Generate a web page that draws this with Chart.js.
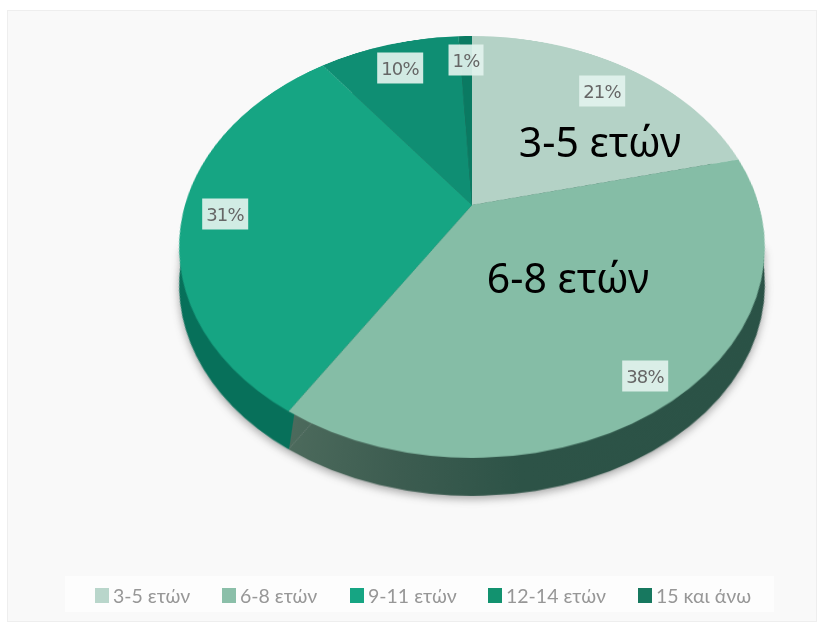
<!DOCTYPE html>
<html lang="el">
<head>
<meta charset="utf-8">
<title>Ηλικίες</title>
<script src="https://cdn.jsdelivr.net/npm/chart.js@4"></script>
<style>
  html, body { margin: 0; padding: 0; background: #fff; }
  #page { position: relative; width: 826px; height: 622px; overflow: hidden; }
  #frame { position: absolute; left: 7px; top: 10px; width: 810px; height: 612px;
           background: #f9f9f9; border: 1px solid #eeeeee; box-sizing: border-box; }
  #side { position: absolute; left: 0; top: 0; width: 826px; height: 622px;
          filter: drop-shadow(0 3px 4px rgba(40, 40, 40, .4)); }
  #sideStrip { position: absolute; left: 181px; top: 247px; width: 583px; height: 38px;
               background: linear-gradient(to right, #07705a 0 50%, #2a5246 50% 100%); }
  .pie { position: absolute; transform-origin: 50% 50%; }
  .pct { position: absolute; transform: translate(-50%, -50%); padding: 5px 4px; white-space: nowrap;
         background: rgba(226, 242, 237, .92); color: #666; font: 18px "DejaVu Sans", sans-serif;
         letter-spacing: -0.8px; filter: blur(.6px); }
  .big { position: absolute; transform: translate(-50%, -50%); white-space: nowrap;
         color: #000; font: 41px "Noto Sans", sans-serif; }
  #legend { position: absolute; left: 65px; top: 576px; width: 709px; height: 36px; background: #fdfdfd;
            filter: blur(.6px); }
  .item { position: absolute; top: 9px; color: #979797; font: 19.5px Lato, sans-serif; white-space: nowrap;
          display: flex; align-items: center; height: 20px; }
  .swatch { display: inline-block; width: 14px; height: 15px; margin-right: 4px; }
</style>
</head>
<body>
<div id="page">
  <div id="frame"></div>
  <div id="side">
    <canvas id="sidePie" class="pie" width="600" height="600"></canvas>
    <div id="sideStrip"></div>
  </div>
  <canvas id="topPie" class="pie" width="600" height="600"></canvas>
  <div id="labels"></div>
  <div id="legend"></div>
</div>
<script>
const categories = ['3-5 ετών', '6-8 ετών', '9-11 ετών', '12-14 ετών', '15 και άνω'];
const shares = [21.43, 38.1, 31.1, 9.5, 0.9];
const bigLabels = ['3-5 ετών', '6-8 ετών'];

const colors = ['#b4d2c6', '#85bda6', '#16a583', '#0f8e73', '#0a7a62'];
const legendColors = ['#b9d6cb', '#8bbfa9', '#16a583', '#12926f', '#17785f'];
const pctPos = [[602, 91], [645, 376], [225, 214], [400, 68], [466, 60]];
const bigPos = [[600, 141], [568, 277]];
const legendLeft = [30, 157, 285, 423, 573];

// tilt of the pie: centre, perspective and squash of the flat circle
const cx = 472, cy = 205, depth = 38;
const R = 300, sx = 287 / R, sy = 202.6 / R, persp = -0.199 / R;

function place(canvas, top) {
  canvas.style.left = (cx - R) + 'px';
  canvas.style.top = (top - R) + 'px';
  canvas.style.transform = `matrix3d(${sx},0,0,0, 0,${sy},0,${persp}, 0,0,1,0, 0,0,0,1)`;
}

function makePie(id, backgroundColor) {
  return new Chart(document.getElementById(id), {
    type: 'pie',
    data: { labels: categories, datasets: [{ data: shares, backgroundColor, borderWidth: 0 }] },
    options: {
      responsive: false,
      animation: false,
      layout: { padding: 0 },
      plugins: { legend: { display: false }, tooltip: { enabled: false } }
    }
  });
}

place(document.getElementById('sidePie'), cy + depth);
place(document.getElementById('topPie'), cy);

// the wall: teal under 9-11, then grey green going dark under 6-8, seam is straight down
const sideCtx = document.getElementById('sidePie').getContext('2d');
const wall = sideCtx.createLinearGradient(0, 0, 600, 0);
wall.addColorStop(0, '#07705a');
wall.addColorStop(0.235, '#07705a');
wall.addColorStop(0.235, '#4c6a5c');
wall.addColorStop(0.4, '#3c5c50');
wall.addColorStop(0.57, '#2d5347');
wall.addColorStop(1, '#2a5246');

makePie('sidePie', wall);
makePie('topPie', colors);

const labels = document.getElementById('labels');
shares.forEach((v, i) => {
  const d = document.createElement('div');
  d.className = 'pct';
  d.textContent = Math.round(v) + '%';
  d.style.left = pctPos[i][0] + 'px';
  d.style.top = pctPos[i][1] + 'px';
  labels.appendChild(d);
});
bigLabels.forEach((t, i) => {
  const d = document.createElement('div');
  d.className = 'big';
  d.textContent = t;
  d.style.left = bigPos[i][0] + 'px';
  d.style.top = bigPos[i][1] + 'px';
  labels.appendChild(d);
});

const legend = document.getElementById('legend');
categories.forEach((c, i) => {
  const it = document.createElement('div');
  it.className = 'item';
  it.style.left = legendLeft[i] + 'px';
  const sw = document.createElement('span');
  sw.className = 'swatch';
  sw.style.background = legendColors[i];
  it.appendChild(sw);
  it.appendChild(document.createTextNode(c));
  legend.appendChild(it);
});
</script>
</body>
</html>
